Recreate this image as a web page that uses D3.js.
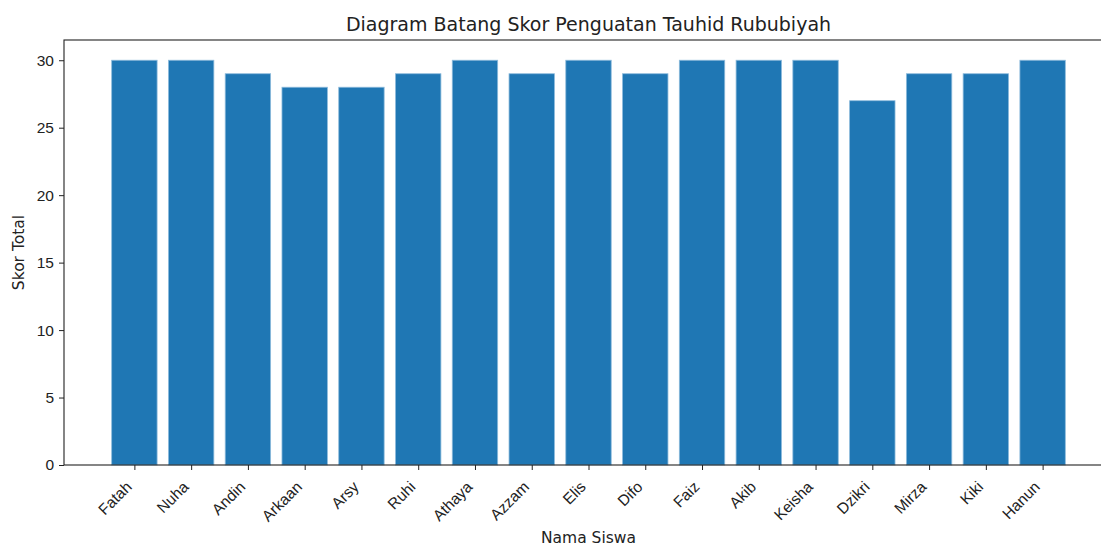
<!DOCTYPE html>
<html>
<head>
<meta charset="utf-8">
<script src="https://cdn.jsdelivr.net/npm/d3@7"></script>
<style>
body{margin:0;background:#fff;}
svg{font-family:"DejaVu Sans",sans-serif;}
</style>
</head>
<body>
<div id="chart"></div>
<script>
var names=['Fatah','Nuha','Andin','Arkaan','Arsy','Ruhi','Athaya','Azzam','Elis','Difo','Faiz','Akib','Keisha','Dzikri','Mirza','Kiki','Hanun'];
var scores=[30,30,29,28,28,29,30,29,30,29,30,30,30,27,29,29,30];
var yTicks=[0,5,10,15,20,25,30];

var width=1101,
    height=547,
    mLeft=64,
    mRight=1113,
    mTop=40,
    mBottom=465;

var svg=d3.select('#chart').append('svg')
    .attr('width',width)
    .attr('height',height);

// matplotlib-like linear x: bars at 0..n-1, width .8, margins 5%
var n=names.length;
var span=(n-1)+0.8;
var xScale=d3.scaleLinear()
    .domain([-0.4-span*0.05,(n-1)+0.4+span*0.05])
    .range([mLeft,mRight]);

var yScale=d3.scaleLinear()
    .domain([0,31.5])
    .range([mBottom,mTop]);

svg.selectAll('rect.bar').data(scores)
    .enter().append('rect')
    .attr('class','bar')
    .attr('x',function(d,i){return xScale(i-0.4);})
    .attr('width',function(d,i){return xScale(i+0.4)-xScale(i-0.4);})
    .attr('y',function(d){return yScale(d);})
    .attr('height',function(d){return yScale(0)-yScale(d);})
    .style('fill','#1f77b4')
    .style('stroke','#8dbbdc')
    .style('stroke-width',0.8);

// spines
svg.append('rect')
    .attr('x',mLeft)
    .attr('y',mTop)
    .attr('width',mRight-mLeft)
    .attr('height',mBottom-mTop)
    .style('fill','none')
    .style('stroke','#222')
    .style('stroke-width',1.1);

// y axis
var yAxis=d3.axisLeft(yScale)
    .tickValues(yTicks)
    .tickSize(5)
    .tickPadding(5);
var gy=svg.append('g')
    .attr('transform','translate('+mLeft+',0)')
    .call(yAxis);
gy.select('.domain').remove();
gy.selectAll('text').style('font-size','15.5px').style('fill','#222');
gy.selectAll('line').style('stroke','#222');

// x axis
var xAxis=d3.axisBottom(xScale)
    .tickValues(d3.range(n))
    .tickFormat(function(i){return names[i];})
    .tickSize(5);
var gx=svg.append('g')
    .attr('transform','translate(0,'+mBottom+')')
    .call(xAxis);
gx.select('.domain').remove();
gx.selectAll('line').style('stroke','#222');
gx.selectAll('text')
    .style('font-size','15.5px')
    .style('fill','#222')
    .attr('text-anchor','end')
    .attr('x',0)
    .attr('y',0)
    .attr('dy','0.35em')
    .attr('transform','translate(-6,19) rotate(-45)');

// title and labels
svg.append('text')
    .attr('x',(mLeft+mRight)/2)
    .attr('y',31)
    .attr('text-anchor','middle')
    .style('font-size','19px')
    .style('fill','#222')
    .text('Diagram Batang Skor Penguatan Tauhid Rububiyah');

svg.append('text')
    .attr('x',(mLeft+mRight)/2)
    .attr('y',543)
    .attr('text-anchor','middle')
    .style('font-size','15.5px')
    .style('fill','#222')
    .text('Nama Siswa');

svg.append('text')
    .attr('transform','translate(24,'+((mTop+mBottom)/2)+') rotate(-90)')
    .attr('text-anchor','middle')
    .style('font-size','15.5px')
    .style('fill','#222')
    .text('Skor Total');
</script>
</body>
</html>
